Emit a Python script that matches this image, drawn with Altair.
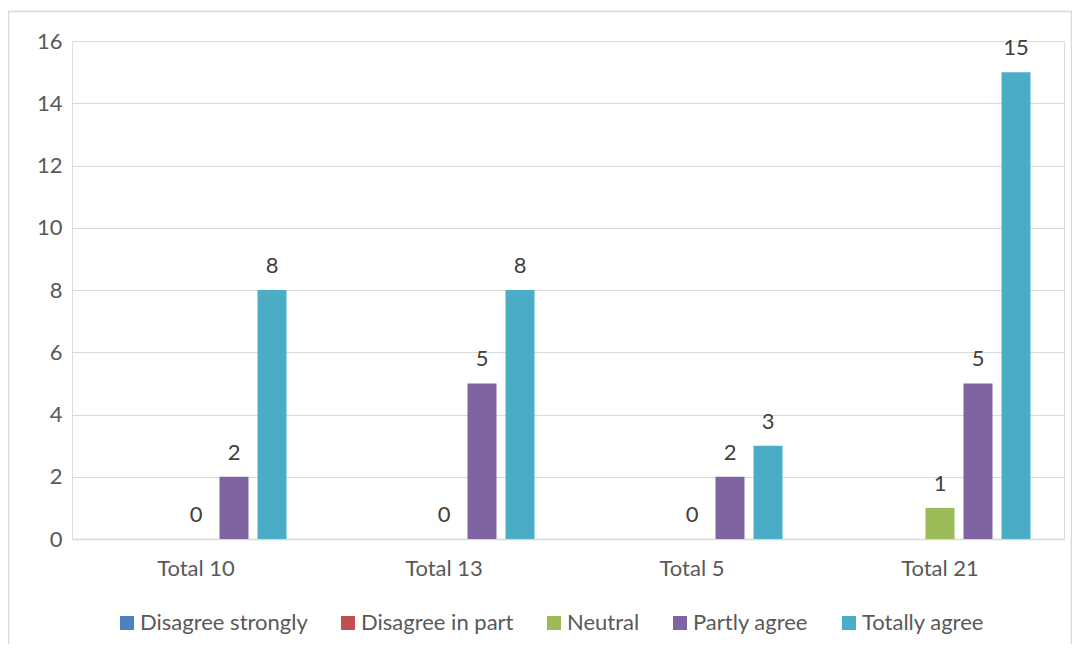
import altair as alt
import pandas as pd

categories = ["Total 10", "Total 13", "Total 5", "Total 21"]
series = ["Disagree strongly", "Disagree in part", "Neutral", "Partly agree", "Totally agree"]
colors = ["#4F81BD", "#C0504D", "#9BBB59", "#8064A2", "#4BACC6"]

disagree_strongly = [None, None, None, None]
disagree_in_part = [None, None, None, None]
neutral = [0, 0, 0, 1]
partly_agree = [2, 5, 2, 5]
totally_agree = [8, 8, 3, 15]

y_ticks = [0, 2, 4, 6, 8, 10, 12, 14, 16]

values_by_series = [disagree_strongly, disagree_in_part, neutral, partly_agree, totally_agree]
rows = []
for s, vals in zip(series, values_by_series):
    for c, v in zip(categories, vals):
        rows.append({"category": c, "series": s, "value": v})
df = pd.DataFrame(rows)

FONT = "Lato"
FS = 22

x_enc = alt.X("category:N", sort=categories, title=None,
              scale=alt.Scale(paddingInner=0.234, paddingOuter=0.117),
              axis=alt.Axis(labelAngle=0, ticks=False, domain=True, domainColor="#d9d9d9",
                            domainWidth=1.5, labelPadding=19, labelFontSize=FS,
                            labelColor="#595959", labelFont=FONT))
xoff_enc = alt.XOffset("series:N", sort=series,
                       scale=alt.Scale(domain=series, paddingInner=0.237, paddingOuter=0.118))
y_enc = alt.Y("value:Q", title=None,
              scale=alt.Scale(domain=[0, 16], nice=False),
              axis=alt.Axis(values=y_ticks, ticks=False, domain=False, gridColor="#d9d9d9",
                            gridWidth=1.2, labelPadding=10, labelFontSize=FS,
                            labelColor="#595959", labelFont=FONT))

base = alt.Chart(df)

bars = base.mark_bar().encode(
    x=x_enc,
    xOffset=xoff_enc,
    y=y_enc,
    color=alt.Color("series:N", sort=series,
                    scale=alt.Scale(domain=series, range=colors),
                    legend=alt.Legend(title=None, orient="none", direction="horizontal",
                                      legendX=44, legendY=571,
                                      symbolType="square", symbolSize=196,
                                      symbolStrokeWidth=0, labelFontSize=FS,
                                      labelFont=FONT, labelColor="#595959",
                                      labelLimit=0, labelOffset=2, columnPadding=29)),
)

labels = base.mark_text(dy=-17, baseline="alphabetic", fontSize=FS, font=FONT,
                        color="#404040").encode(
    x=alt.X("category:N", sort=categories),
    xOffset=alt.XOffset("series:N", sort=series),
    y=alt.Y("value:Q"),
    text=alt.Text("value:Q", format="d"),
)

border = alt.Chart(alt.Data(values=[{}])).mark_rect(
    fill=None, stroke="#d9d9d9", strokeWidth=1.5
).encode(x=alt.value(-63.5), x2=alt.value(999.5), y=alt.value(-29.5), y2=alt.value(700))

chart = alt.layer(border, bars, labels).properties(
    width=992, height=498,
    autosize=alt.AutoSizeParams(type="none"),
    padding={"left": 64, "top": 33, "right": 8, "bottom": 105},
).configure_view(stroke=None).configure(background="white")

chart.save("out.html", embed_options={"renderer": "svg", "actions": False})
